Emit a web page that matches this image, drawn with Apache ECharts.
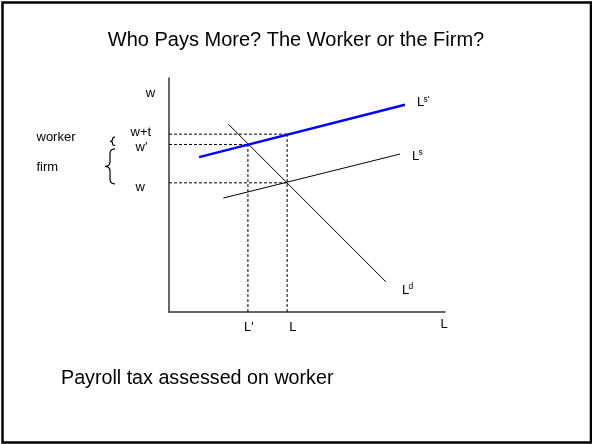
<!DOCTYPE html>
<html>
<head>
<meta charset="utf-8">
<script src="https://cdn.jsdelivr.net/npm/echarts@6/dist/echarts.min.js"></script>
<style>html,body{margin:0;padding:0;background:#fff}#c{width:592px;height:444px}</style>
</head>
<body>
<div id="c"></div>
<script>
// ---- data (axis units 0..10) ----
const title = "Who Pays More? The Worker or the Firm?";
const caption = "Payroll tax assessed on worker";
const laborLabels = ["L'", "L"];
const laborValues = [2.86, 4.28];
const wageLabels = ["w+t", "w'", "w"];
const wageValues = [7.6, 7.16, 5.52];
const supplyTaxed = [[1.09, 6.62], [8.55, 8.86]];   // Ls'
const supply = [[1.97, 4.87], [8.37, 6.75]];        // Ls
const demand = [[2.15, 8.03], [7.86, 1.29]];        // Ld
const curveNames = ["s'", "s", "d"];
const sideLabels = ["worker", "firm"];

const FONT = "'Liberation Sans', Arial, sans-serif";
const chart = echarts.init(document.getElementById('c'), null, {renderer: 'canvas'});

const [Lp, L] = laborValues;
const [wT, wP, w0] = wageValues;
const guides = [
  [[0, wT], [L, wT]],
  [[0, wP], [Lp, wP]],
  [[0, w0], [L, w0]],
  [[Lp, 0], [Lp, wP]],
  [[L, 0], [L, wT]]
];

const series = [];
guides.forEach(g => series.push({
  type: 'line', data: g, showSymbol: false, silent: true,
  lineStyle: {color: '#000', width: 1, type: [3, 2]}
}));
series.push({type: 'line', data: supply, showSymbol: false, lineStyle: {color: '#000', width: 1}});
series.push({type: 'line', data: demand, showSymbol: false, lineStyle: {color: '#000', width: 1}});
series.push({type: 'line', data: supplyTaxed, showSymbol: false, lineStyle: {color: '#0000ff', width: 2.5}});

chart.setOption({
  animation: false,
  backgroundColor: '#fff',
  grid: {left: 169, top: 78, right: 147, bottom: 132, containLabel: false},
  xAxis: {type: 'value', min: 0, max: 10, splitLine: {show: false}, axisTick: {show: false},
    axisLabel: {show: false}, axisLine: {show: true, onZero: false, lineStyle: {color: '#333', width: 1.5}}},
  yAxis: {type: 'value', min: 0, max: 10, splitLine: {show: false}, axisTick: {show: false},
    axisLabel: {show: false}, axisLine: {show: true, onZero: false, lineStyle: {color: '#333', width: 1.5}}},
  series: series
});

const px = p => chart.convertToPixel({gridIndex: 0}, p);
// text placed by its alphabetic baseline (converted to a 'middle' anchor)
const txt = (x, base, s, size, align) => ({
  type: 'text', x: x, y: base - 0.2 * size, silent: true,
  style: {text: s, fill: '#000', font: size + 'px ' + FONT, textAlign: align || 'left', textVerticalAlign: 'middle'}
});
function quad(p0, c, p1, n, out) {
  for (let i = 1; i <= n; i++) {
    const t = i / n, a = (1 - t) * (1 - t), b = 2 * (1 - t) * t, d = t * t;
    out.push([a * p0[0] + b * c[0] + d * p1[0], a * p0[1] + b * c[1] + d * p1[1]]);
  }
}
function brace(xr, yt, yb, wdt) {
  const xm = xr - wdt / 2, xl = xr - wdt, ym = (yt + yb) / 2, r = Math.min(wdt / 2, (yb - yt) / 4);
  const pts = [[xr, yt]];
  quad([xr, yt], [xm, yt], [xm, yt + r], 6, pts);
  pts.push([xm, ym - r]);
  quad([xm, ym - r], [xm, ym], [xl, ym], 6, pts);
  quad([xl, ym], [xm, ym], [xm, ym + r], 6, pts);
  pts.push([xm, yb - r]);
  quad([xm, yb - r], [xm, yb], [xr, yb], 6, pts);
  return {type: 'polyline', silent: true, shape: {points: pts}, style: {stroke: '#000', fill: null, lineWidth: 1.2}};
}

const g = [];
// frame
g.push({type: 'rect', silent: true, shape: {x: 2.5, y: 2.5, width: 588.5, height: 440}, style: {stroke: '#000', fill: null, lineWidth: 2.5}});
g.push({type: 'text', x: 296, y: 40.5, silent: true, style: {text: title, fill: '#000', font: '20px ' + FONT, textAlign: 'center', textVerticalAlign: 'middle'}});
g.push(txt(61, 382.8, caption, 19.7, 'left'));

// y-axis name
g.push(txt(150.5, 96, 'w', 13, 'center'));
// x-axis name
g.push(txt(440.5, 327, 'L', 13, 'left'));
// wage labels
const yT = px([0, wT])[1], yP = px([0, wP])[1], y0 = px([0, w0])[1];
g.push(txt(130.5, yT + 1, wageLabels[0], 13, 'left'));
g.push(txt(135.5, yP + 6, wageLabels[1], 13, 'left'));
g.push(txt(135.5, y0 + 7, wageLabels[2], 13, 'left'));
// labor labels
g.push(txt(px([Lp, 0])[0] - 4, 330, laborLabels[0], 13, 'left'));
g.push(txt(px([L, 0])[0] + 2, 330, laborLabels[1], 13, 'left'));
// side labels & braces
g.push(txt(36.5, 140, sideLabels[0], 13, 'left'));
g.push(txt(36.5, 170, sideLabels[1], 13, 'left'));
g.push(brace(115, yT + 3, yP + 1, 5));
g.push(brace(115, yP + 4.5, y0 + 1, 10));
// curve labels
const ends = [supplyTaxed[1], supply[1], demand[1]];
const offs = [[12, 0.5], [12, 5], [16, 11]];
ends.forEach((e, i) => {
  const p = px(e);
  const lx = p[0] + offs[i][0], ly = p[1] + offs[i][1];
  g.push(txt(lx, ly, 'L', 13, 'left'));
  g.push(txt(lx + 6.5, ly - 4.3, curveNames[i], 8.5, 'left'));
});
chart.setOption({graphic: g});
</script>
</body>
</html>
